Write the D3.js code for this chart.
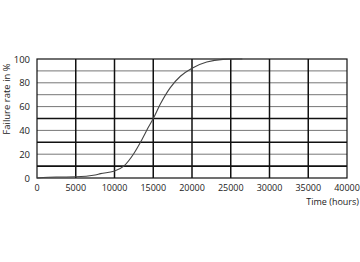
<!DOCTYPE html>
<html>
<head>
<meta charset="utf-8">
<script src="https://cdn.jsdelivr.net/npm/d3@7"></script>
<style>
  html, body { margin: 0; padding: 0; background: #fff; }
  text { font-family: "Open Sans", sans-serif; fill: #222; }
</style>
</head>
<body>
<div class="viz"></div>
<script>
var width = 360,
    height = 262;

// curve (hours, % failed)
var hours = [0, 2500, 5000, 7500, 8200, 9900, 11200, 12500, 13500, 14400, 15000, 15900, 17200, 18500, 20000, 21900, 24000, 25500, 26500];
var failed = [0, 0.8, 1, 2.5, 3.7, 5.6, 10, 20.6, 31.8, 43, 50, 62, 76, 85.5, 92.3, 97.4, 99.7, 100, 100];

var xTicks = [0, 5000, 10000, 15000, 20000, 25000, 30000, 35000, 40000];
var yTicks = [0, 20, 40, 60, 80, 100];
var gridLines = [10, 20, 30, 40, 50, 60, 70, 80, 90];
var heavyLines = [10, 30, 50];

var margin = {left: 37, right: 13, top: 59, bottom: 84};

var svg = d3.select(".viz").append("svg")
    .attr("width", width)
    .attr("height", height);

var x = d3.scaleLinear()
    .domain([0, 40000])
    .range([margin.left, width - margin.right]);

var y = d3.scaleLinear()
    .domain([0, 100])
    .range([height - margin.bottom, margin.top]);

// horizontal grid
svg.append("g").selectAll("line")
    .data(gridLines)
    .enter().append("line")
    .attr("x1", x(0)).attr("x2", x(40000))
    .attr("y1", function(d) { return y(d); })
    .attr("y2", function(d) { return y(d); })
    .attr("stroke", function(d) { return heavyLines.indexOf(d) >= 0 ? "#111" : "#777"; })
    .attr("stroke-width", function(d) { return heavyLines.indexOf(d) >= 0 ? 1.6 : 1; });

// vertical grid
svg.append("g").selectAll("line")
    .data(xTicks.slice(1, -1))
    .enter().append("line")
    .attr("y1", y(0)).attr("y2", y(100))
    .attr("x1", function(d) { return x(d); })
    .attr("x2", function(d) { return x(d); })
    .attr("stroke", "#111")
    .attr("stroke-width", 1.5);

// frame
svg.append("rect")
    .attr("x", x(0)).attr("y", y(100))
    .attr("width", x(40000) - x(0))
    .attr("height", y(0) - y(100))
    .attr("fill", "none")
    .attr("stroke", "#111")
    .attr("stroke-width", 1.2);

var line = d3.line()
    .x(function(d, i) { return x(hours[i]); })
    .y(function(d) { return y(d); })
    .curve(d3.curveMonotoneX);

svg.append("path")
    .datum(failed)
    .attr("d", line)
    .attr("fill", "none")
    .attr("stroke", "#444")
    .attr("stroke-width", 1.1);

// tick labels
svg.append("g").selectAll("text")
    .data(yTicks)
    .enter().append("text")
    .attr("x", x(0) - 7)
    .attr("y", function(d) { return y(d) + 3.5; })
    .attr("text-anchor", "end")
    .style("font-size", "9.5px")
    .text(function(d) { return d; });

svg.append("g").selectAll("text")
    .data(xTicks)
    .enter().append("text")
    .attr("x", function(d) { return x(d); })
    .attr("y", y(0) + 13)
    .attr("text-anchor", "middle")
    .style("font-size", "9px")
    .text(function(d) { return d; });

svg.append("text")
    .attr("x", 359)
    .attr("y", 205)
    .attr("text-anchor", "end")
    .style("font-size", "9px")
    .text("Time (hours)");

svg.append("text")
    .attr("transform", "translate(10," + 99 + ") rotate(-90)")
    .attr("text-anchor", "middle")
    .style("font-size", "9.5px")
    .text("Failure rate in %");
</script>
</body>
</html>
